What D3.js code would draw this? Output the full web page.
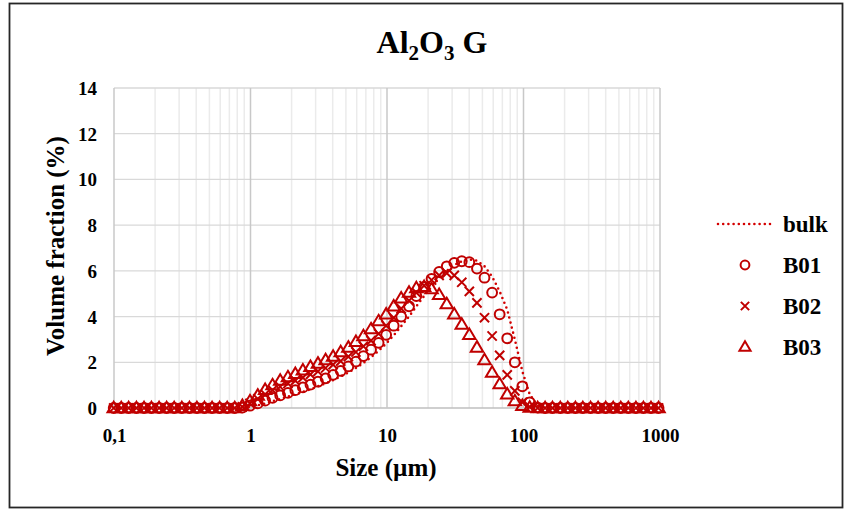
<!DOCTYPE html>
<html><head><meta charset="utf-8">
<script src="https://cdn.jsdelivr.net/npm/d3@7"></script>
<style>body{margin:0;background:#fff}svg{display:block}</style>
</head><body>
<svg id="c" width="845" height="511"></svg>
<script>
// Size classes (µm)
const sizes = [0.0995,0.113,0.128,0.146,0.166,0.188,0.214,0.243,0.276,0.314,
0.357,0.405,0.46,0.523,0.594,0.675,0.767,0.872,0.991,1.13,
1.28,1.45,1.65,1.88,2.13,2.42,2.75,3.12,3.55,4.03,
4.58,5.21,5.92,6.72,7.64,8.68,9.86,11.2,12.7,14.5,
16.4,18.7,21.2,24.1,27.4,31.1,35.3,40.1,45.6,51.8,
58.9,66.9,76,86.4,98.1,111,127,144,163,186,
211,240,272,310,352,400,454,516,586,666,
756,859,976];
const bulk = [0,0,0,0,0,0,0,0,0,0,0,0,0,0,0,0,0,
0,0.05,0.12,0.2,0.3,0.4,0.5,0.6,0.7,0.82,
0.95,1.08,1.22,1.38,1.55,1.75,1.97,2.22,2.5,2.82,
3.18,3.58,4.0,4.45,4.9,5.3,5.68,6.0,6.25,6.42,
6.5,6.45,6.2,5.75,5.1,4.3,3.0,1.6,0.6,0.1,
0,0,0,0,0,0,0,0,0,0,0,0,0,0,0,0];
const b01 = [0,0,0,0,0,0,0,0,0,0,0,0,0,0,0,0,0,
0.02,0.1,0.2,0.32,0.44,0.55,0.66,0.78,0.9,1.02,
1.15,1.3,1.45,1.62,1.82,2.03,2.27,2.55,2.85,3.2,
3.6,4.0,4.45,4.9,5.3,5.65,5.95,6.2,6.35,6.42,
6.38,6.1,5.7,5.05,4.1,3.05,2.0,0.95,0.25,0.02,
0,0,0,0,0,0,0,0,0,0,0,0,0,0,0,0];
const b02 = [0,0,0,0,0,0,0,0,0,0,0,0,0,0,0,0,0,
0.05,0.2,0.4,0.6,0.78,0.93,1.07,1.2,1.33,1.47,
1.6,1.75,1.9,2.05,2.25,2.45,2.7,2.95,3.25,3.6,
3.95,4.35,4.7,5.05,5.35,5.6,5.8,5.9,5.8,5.5,
5.1,4.6,3.95,3.15,2.3,1.45,0.75,0.25,0.05,0,
0,0,0,0,0,0,0,0,0,0,0,0,0,0,0,0];
const b03 = [0,0,0,0,0,0,0,0,0,0,0,0,0,0,0,0,0,
0.1,0.3,0.55,0.8,1.0,1.2,1.35,1.5,1.65,1.8,
1.95,2.1,2.25,2.45,2.65,2.9,3.15,3.45,3.8,4.1,
4.45,4.8,5.05,5.25,5.3,5.2,4.95,4.55,4.1,3.65,
3.2,2.65,2.1,1.55,1.05,0.6,0.3,0.1,0.02,0,
0,0,0,0,0,0,0,0,0,0,0,0,0,0,0,0];
const xTicks = [0.1,1,10,100,1000];
const xTickLabels = ["0,1","1","10","100","1000"];
const yTicks = [0,2,4,6,8,10,12,14];
const seriesNames = ["bulk","B01","B02","B03"];

const svg = d3.select("#c");
const FONT = "'Liberation Serif','Times New Roman',serif";
const RED = "#C00000";
const x = d3.scaleLog().domain([0.1,1000]).range([114,660]);
const y = d3.scaleLinear().domain([0,14]).range([408,88]);

// outer frame
svg.append("rect").attr("x",9.5).attr("y",3.5).attr("width",833).attr("height",504)
  .attr("fill","none").attr("stroke","#262626").attr("stroke-width",1.8);

// minor vertical grid
const minors = [];
for (let d=0.1; d<1000; d*=10) for (let m=2;m<=9;m++) minors.push(d*m);
svg.append("g").selectAll("line").data(minors).join("line")
  .attr("x1",d=>x(d)).attr("x2",d=>x(d)).attr("y1",y(14)).attr("y2",y(0))
  .attr("stroke","#ebebeb").attr("stroke-width",1.5);
// horizontal grid
svg.append("g").selectAll("line").data(yTicks).join("line")
  .attr("x1",x(0.1)).attr("x2",x(1000)).attr("y1",d=>y(d)).attr("y2",d=>y(d))
  .attr("stroke",d=>d===0?"#bfbfbf":"#d9d9d9").attr("stroke-width",1.3);
// major vertical grid
svg.append("g").selectAll("line").data(xTicks).join("line")
  .attr("x1",d=>x(d)).attr("x2",d=>x(d)).attr("y1",y(14)).attr("y2",y(0))
  .attr("stroke","#c8c8c8").attr("stroke-width",1.5);

// axes labels via d3 axes
const xAxis = d3.axisBottom(x).tickValues(xTicks).tickSize(0).tickPadding(0)
  .tickFormat((d,i)=>xTickLabels[i]);
const gx = svg.append("g").attr("transform","translate(0,442)").call(xAxis);
gx.select(".domain").remove();
gx.selectAll("text").attr("font-family",FONT).attr("font-weight","bold")
  .attr("font-size",19).attr("fill","#000").attr("dy",0);
const yAxis = d3.axisLeft(y).tickValues(yTicks).tickSize(0).tickPadding(0);
const gy = svg.append("g").attr("transform","translate(97,0)").call(yAxis);
gy.select(".domain").remove();
gy.selectAll("text").attr("font-family",FONT).attr("font-weight","bold")
  .attr("font-size",19).attr("fill","#000").attr("dy","0.34em");

// axis titles
svg.append("text").attr("x",386).attr("y",476).attr("text-anchor","middle")
  .attr("font-family",FONT).attr("font-weight","bold").attr("font-size",25).text("Size (µm)");
svg.append("text").attr("transform","translate(64,246) rotate(-90)").attr("text-anchor","middle")
  .attr("font-family",FONT).attr("font-weight","bold").attr("font-size",25).text("Volume fraction (%)");

// title
const t = svg.append("text").attr("x",432).attr("y",53).attr("text-anchor","middle")
  .attr("font-family",FONT).attr("font-weight","bold").attr("font-size",32);
t.append("tspan").text("Al");
t.append("tspan").attr("font-size",21).attr("dy",7).text("2");
t.append("tspan").attr("dy",-7).text("O");
t.append("tspan").attr("font-size",21).attr("dy",7).text("3");
t.append("tspan").attr("dy",-7).text(" G");

// symbols
function circleSym(g,cx,cy,s=1){ g.append("circle").attr("cx",cx).attr("cy",cy).attr("r",4.9*s)
  .attr("fill","none").attr("stroke",RED).attr("stroke-width",2); }
function crossSym(g,cx,cy,s=1){ const a=4.6*s; g.append("path")
  .attr("d",`M${cx-a},${cy-a}L${cx+a},${cy+a}M${cx-a},${cy+a}L${cx+a},${cy-a}`)
  .attr("stroke",RED).attr("stroke-width",2).attr("fill","none"); }
function triSym(g,cx,cy,s=1){ const h=10.5*s,w=6.2*s; g.append("path")
  .attr("d",`M${cx},${cy-h*0.6}L${cx+w},${cy+h*0.4}L${cx-w},${cy+h*0.4}Z`)
  .attr("stroke",RED).attr("stroke-width",2).attr("fill","none").attr("stroke-linejoin","miter"); }

const plot = svg.append("g");
// bulk dotted line
const line = d3.line().x((d,i)=>x(sizes[i])).y(d=>y(d));
plot.append("path").attr("d",line(bulk)).attr("fill","none").attr("stroke","#D40000")
  .attr("stroke-width",2.6).attr("stroke-dasharray","0 5.2").attr("stroke-linecap","round");
const gB01 = plot.append("g"), gB02 = plot.append("g"), gB03 = plot.append("g");
b01.forEach((v,i)=>circleSym(gB01,x(sizes[i]),y(v)));
b02.forEach((v,i)=>crossSym(gB02,x(sizes[i]),y(v)));
b03.forEach((v,i)=>triSym(gB03,x(sizes[i]),y(v)));

// legend
const lg = svg.append("g");
const ly = [224,265,306,347];
lg.append("line").attr("x1",718).attr("x2",772).attr("y1",ly[0]).attr("y2",ly[0])
  .attr("stroke","#D40000").attr("stroke-width",2.6).attr("stroke-dasharray","0 5.2").attr("stroke-linecap","round");
circleSym(lg,745,ly[1],0.9); crossSym(lg,745,ly[2],0.9); triSym(lg,745,ly[3],0.9);
seriesNames.forEach((n,i)=>lg.append("text").attr("x",783).attr("y",ly[i]).attr("dy","0.34em")
  .attr("font-family",FONT).attr("font-weight","bold").attr("font-size",23).text(n));
</script>
</body></html>
